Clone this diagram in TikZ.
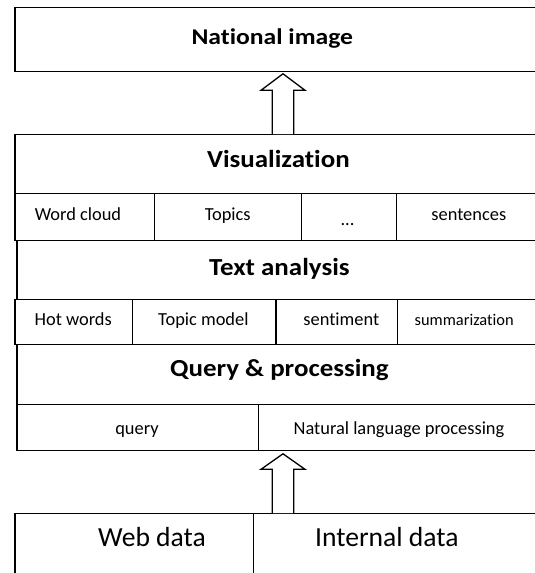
\documentclass[tikz,border=0pt]{standalone}
\usepackage{fontspec}
\setmainfont{Carlito}[Ligatures={NoCommon}]
\usetikzlibrary{calc}
\newcommand{\hstretch}[2]{\scalebox{#1}[1]{#2}}
\tikzset{
  box/.style={draw=black, line width=1.3pt, fill=white, rectangle, inner sep=0pt, anchor=north west},
  head/.style={font=\fontsize{24.5}{26}\selectfont\bfseries, anchor=base, inner sep=0pt},
  cell/.style={font=\fontsize{18.4}{20}\selectfont, anchor=base, inner sep=0pt},
  big/.style={font=\fontsize{27.6}{29}\selectfont, anchor=base, inner sep=0pt},
  blockarrow/.style={draw=black, line width=1.3pt, fill=white, line join=miter}
}
\begin{document}
\begin{tikzpicture}[x=1pt, y=-1pt]
\useasboundingbox (0,0) rectangle (535,573);
% boxes
\node[box, minimum width=526pt, minimum height=63.5pt] (nat) at (14.3,7) {};
\node[box, minimum width=526pt, minimum height=59pt] (vis) at (14.3,134) {};
\node[box, minimum width=139.7pt, minimum height=47pt] (wc) at (14.3,193) {};
\node[box, minimum width=147pt, minimum height=47pt] (tp) at (154,193) {};
\node[box, minimum width=95pt, minimum height=47pt] (dots) at (301,193) {};
\node[box, minimum width=144pt, minimum height=47pt] (sen) at (396,193) {};
\node[box, minimum width=523.6pt, minimum height=59pt] (ta) at (16.4,240) {};
\node[box, minimum width=117.7pt, minimum height=45pt] (hw) at (14.3,299) {};
\node[box, minimum width=143.3pt, minimum height=45pt] (tm) at (132,299) {};
\node[box, minimum width=121.7pt, minimum height=45pt] (sm) at (275.3,299) {};
\node[box, minimum width=143pt, minimum height=45pt] (su) at (397,299) {};
\node[box, minimum width=523.6pt, minimum height=60pt] (qp) at (16.4,344) {};
\node[box, minimum width=241.6pt, minimum height=46pt] (qu) at (16.4,404) {};
\node[box, minimum width=282pt, minimum height=46pt] (nlp) at (258,404) {};
\node[box, minimum width=238.2pt, minimum height=70pt] (web) at (14.3,513) {};
\node[box, minimum width=287.5pt, minimum height=70pt] (int) at (252.5,513) {};
% texts
\node[head, font=\fontsize{22.5}{24}\selectfont\bfseries] (tnat) at (272.3,44) {\hstretch{1.14}{National image}};
\node[head] (tvis) at (278.4,167.5) {\hstretch{1.1}{Visualization}};
\node[cell] (twc) at (78,220) {Word cloud};
\node[cell] (ttp) at (227.7,220) {Topics};
\node[cell] (tdots) at (347.5,225.5) {...};
\node[cell] (tsen) at (468.8,220) {sentences};
\node[head] (tta) at (279.4,275) {\hstretch{1.1}{Text analysis}};
\node[cell] (thw) at (73.2,325.8) {Hot words};
\node[cell] (ttm) at (203.4,325.8) {Topic model};
\node[cell] (tsm) at (341.3,325.8) {sentiment};
\node[cell, font=\fontsize{16.4}{18}\selectfont] (tsu) at (464.2,325.8) {summarization};
\node[head] (tqp) at (279.4,376.3) {\hstretch{1.1}{Query \& processing}};
\node[cell] (tqu) at (137,434.5) {query};
\node[cell] (tnlp) at (399,434.5) {Natural language processing};
\node[big] (tweb) at (152,546.7) {Web data};
\node[big] (tint) at (386.9,546.7) {Internal data};
% arrows
\coordinate (ax) at (283,0);
\draw[blockarrow] ($(vis.north -| ax)+(-10.7,0)$) -- ($(nat.south -| ax)+(-10.7,18.5)$) -- ($(nat.south -| ax)+(-22,18.5)$) -- ($(nat.south -| ax)+(0,2)$) -- ($(nat.south -| ax)+(22,18.5)$) -- ($(nat.south -| ax)+(10.7,18.5)$) -- ($(vis.north -| ax)+(10.7,0)$);
\draw[blockarrow] ($(int.north -| ax)+(-10.7,0)$) -- ($(qu.south -| ax)+(-10.7,18)$) -- ($(qu.south -| ax)+(-22,18)$) -- ($(qu.south -| ax)+(0,2.5)$) -- ($(qu.south -| ax)+(22,18)$) -- ($(qu.south -| ax)+(10.7,18)$) -- ($(int.north -| ax)+(10.7,0)$);
\end{tikzpicture}
\end{document}
